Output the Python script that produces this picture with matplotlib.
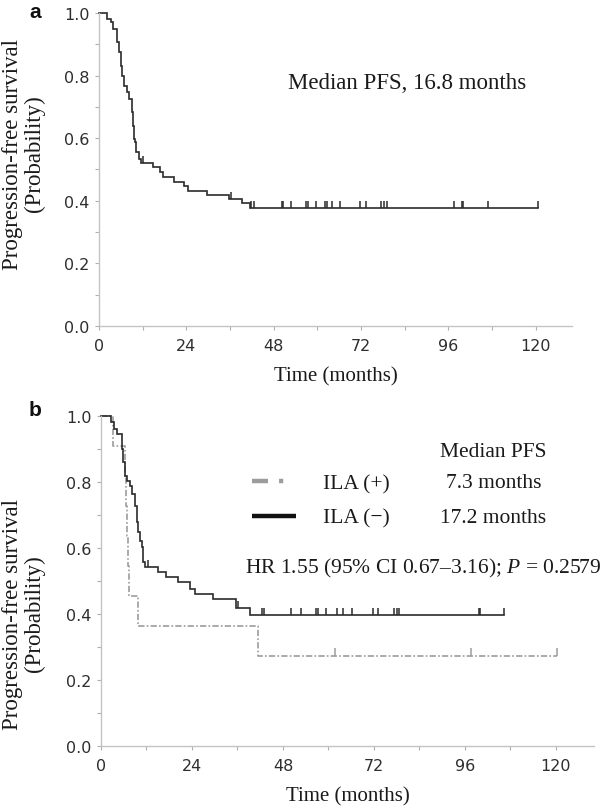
import numpy as np
import matplotlib
matplotlib.use("Agg")
import matplotlib.pyplot as plt
from matplotlib.ticker import MultipleLocator

plt.rcParams['mathtext.fontset'] = 'custom'
plt.rcParams['mathtext.rm'] = 'Liberation Serif'
plt.rcParams['mathtext.it'] = 'Liberation Serif:italic'
plt.rcParams['lines.scale_dashes'] = False

# ---------------- data ----------------
# Panel a: all patients
a_times = [0, 2.3, 3.2, 3.8, 5.0, 5.6, 6.0, 6.4, 7.0, 7.6, 8.3, 9.0, 9.3, 9.5, 9.9,
           10.3, 11.1, 11.6, 14.9, 16.8, 17.5, 20.5, 23.5, 24.6, 29.8, 35.6, 39.2, 41.5]
a_surv = [1.0, 0.982, 0.970, 0.949, 0.906, 0.874, 0.832, 0.800, 0.768, 0.747, 0.725,
          0.683, 0.640, 0.597, 0.587, 0.555, 0.534, 0.520, 0.509, 0.493, 0.475, 0.461,
          0.448, 0.432, 0.419, 0.405, 0.393, 0.377]
a_censor = [12.2, 36.3, 41.7, 42.6, 50.2, 50.5, 52.8, 56.9, 57.4, 59.7, 62.1, 62.6,
            64.1, 66.2, 71.8, 73.4, 77.5, 78.3, 79.1, 97.7, 99.9, 100.2, 106.8, 120.8]

# Panel b: ILA (-)
neg_times = [0, 2.6, 3.4, 4.1, 5.5, 5.9, 6.3, 6.9, 7.6, 8.3, 8.9, 9.4, 9.8, 10.2, 10.7,
             11.1, 11.5, 15.0, 17.2, 20.3, 23.4, 24.7, 29.5, 35.7, 39.2]
neg_surv = [1.0, 0.981, 0.961, 0.945, 0.900, 0.860, 0.819, 0.804, 0.789, 0.764, 0.728,
            0.678, 0.648, 0.622, 0.602, 0.557, 0.542, 0.526, 0.511, 0.496, 0.476, 0.461,
            0.445, 0.418, 0.397]
neg_censor = [12.4, 36.2, 42.4, 43.0, 50.0, 52.7, 56.7, 57.2, 59.3, 62.3, 63.7, 66.1,
              71.7, 73.1, 77.3, 78.0, 78.7, 99.7, 100.0, 106.3]

# Panel b: ILA (+)
pos_times = [0, 3.2, 6.3, 6.6, 6.9, 7.1, 7.3, 9.8, 41.5]
pos_surv = [1.0, 0.909, 0.818, 0.727, 0.636, 0.545, 0.455, 0.364, 0.273]
pos_censor = [61.7, 97.5, 120.3]

x_ticks = [0, 24, 48, 72, 96, 120]
y_ticks = [0.0, 0.2, 0.4, 0.6, 0.8, 1.0]

SERIF = 'Liberation Serif'
DARK = '#2b2b2b'
GRAY = '#9c9c9c'


def km_draw(ax, times, surv, censor, color, lw, dashes=None, mark_h=0.022):
    t = list(times) + [max(censor)]
    s = list(surv) + [surv[-1]]
    line, = ax.step(t, s, where='post', color=color, lw=lw, clip_on=False,
                    solid_joinstyle='miter')
    if dashes is not None:
        line.set_dashes(dashes)
    idx = np.searchsorted(np.asarray(times), np.asarray(censor), side='right') - 1
    lev = np.asarray(surv)[idx]
    ax.vlines(censor, lev, lev + mark_h, color=color, lw=1.1, clip_on=False)


def style_axis(ax):
    ax.set_xlim(0, 130)
    ax.set_ylim(0, 1.0)
    ax.set_xticks(x_ticks)
    ax.set_yticks(y_ticks)
    ax.xaxis.set_minor_locator(MultipleLocator(12))
    ax.yaxis.set_minor_locator(MultipleLocator(0.1))
    ax.set_yticklabels([f"{v:.1f}" for v in y_ticks])
    for sp in ['top', 'right']:
        ax.spines[sp].set_visible(False)
    for sp in ['left', 'bottom']:
        ax.spines[sp].set_color('#c4c4c4')
        ax.spines[sp].set_linewidth(1.0)
    ax.tick_params(which='both', direction='out', length=3, width=0.8,
                   color='#b0b0b0', labelcolor='#2e2e2e', labelsize=11.5)
    ax.tick_params(axis='x', pad=6)
    ax.tick_params(axis='y', pad=4)
    for lab in ax.get_xticklabels() + ax.get_yticklabels():
        lab.set_family('DejaVu Sans')


fig = plt.figure(figsize=(6.02, 8.12), dpi=100)
W, H = 602.0, 812.0

# ---------------- panel a ----------------
ax_a = fig.add_axes([99 / W, 1 - 327 / H, 472.9 / W, 313 / H])
style_axis(ax_a)
km_draw(ax_a, a_times, a_surv, a_censor, DARK, 1.2)
ax_a.text(52, 0.760, 'Median PFS, 16.8 months', family=SERIF, fontsize=16.5,
          color='#1a1a1a', va='baseline', ha='left')
ax_a.set_xlabel('Time (months)', family=SERIF, fontsize=15, color='#1a1a1a', labelpad=9)
fig.text(23.5 / W, 1 - 154 / H, 'Progression-free survival\n(Probability)', family=SERIF,
         fontsize=16.5, rotation=90, ha='center', va='center', multialignment='center',
         linespacing=1.1, color='#1a1a1a')
fig.text(35 / W, 1 - 13 / H, 'a', family='Liberation Sans', fontweight='bold',
         fontsize=15, ha='center', va='center', color='#111111')

# ---------------- panel b ----------------
ax_b = fig.add_axes([101 / W, 1 - 747 / H, 492.9 / W, 330 / H])
style_axis(ax_b)
km_draw(ax_b, pos_times, pos_surv, pos_censor, GRAY, 1.2, dashes=(4.5, 1.6, 1.2, 1.6),
        mark_h=0.024)
km_draw(ax_b, neg_times, neg_surv, neg_censor, DARK, 1.2)

# legend
ax_b.plot([39.8, 50.4], [0.804, 0.804], color=GRAY, lw=3.2, dashes=(11.5, 8, 3, 8),
          solid_capstyle='butt', dash_capstyle='butt')
ax_b.plot([39.8, 51.5], [0.696, 0.696], color='#111111', lw=3.2, solid_capstyle='butt')
ax_b.text(58.6, 0.780, 'ILA (+)', family=SERIF, fontsize=15.5, color='#1a1a1a',
          va='baseline', ha='left')
ax_b.text(58.6, 0.678, 'ILA (\u2212)', family=SERIF, fontsize=15.5, color='#1a1a1a',
          va='baseline', ha='left')
ax_b.text(103.5, 0.880, 'Median PFS', family=SERIF, fontsize=15.5, color='#1a1a1a',
          va='baseline', ha='center')
ax_b.text(103.5, 0.784, '7.3 months', family=SERIF, fontsize=15.5, color='#1a1a1a',
          va='baseline', ha='center')
ax_b.text(103.5, 0.678, '17.2 months', family=SERIF, fontsize=15.5, color='#1a1a1a',
          va='baseline', ha='center')
ax_b.text(38.0, 0.526, 'HR 1.55 (95% CI 0.67\u20133.16); $\\mathit{P}$ = 0.2579', family=SERIF,
          fontsize=15.5, color='#1a1a1a', va='baseline', ha='left')
ax_b.set_xlabel('Time (months)', family=SERIF, fontsize=15, color='#1a1a1a', labelpad=9)
fig.text(23.5 / W, 1 - 614 / H, 'Progression-free survival\n(Probability)', family=SERIF,
         fontsize=16.5, rotation=90, ha='center', va='center', multialignment='center',
         linespacing=1.1, color='#1a1a1a')
fig.text(35 / W, 1 - 411 / H, 'b', family='Liberation Sans', fontweight='bold',
         fontsize=15, ha='center', va='center', color='#111111')

fig.savefig('out.png', dpi=100)
